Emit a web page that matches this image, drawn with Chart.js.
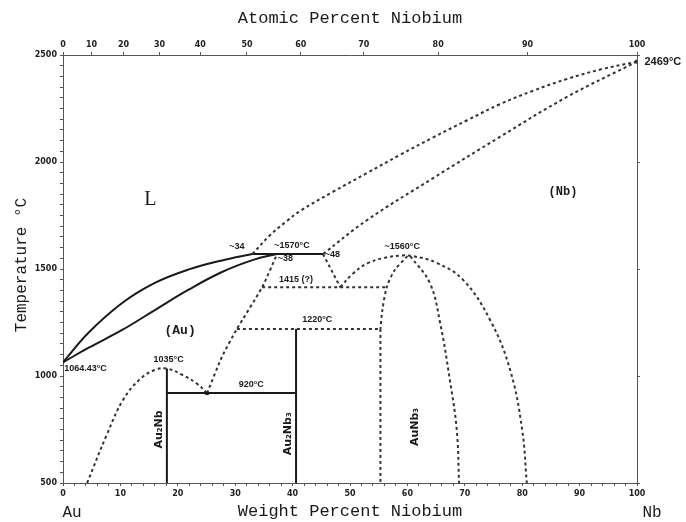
<!DOCTYPE html>
<html>
<head>
<meta charset="utf-8">
<script src="https://cdn.jsdelivr.net/npm/chart.js@4.4.1/dist/chart.umd.min.js"></script>
<style>
  html, body { margin: 0; padding: 0; background: #fff; }
  #wrap { width: 686px; height: 522px; }
</style>
</head>
<body>
<div id="wrap"><canvas id="phase" width="686" height="522"></canvas></div>
<script>
// Au-Nb phase diagram: x = weight percent Nb, y = temperature (°C)
const liquidusAu = [[0,1064],[4.4,1201],[10.3,1341],[16,1435],[21.8,1497],[27.7,1540],[33,1570]];
const solidusAu = [[0,1064],[4.4,1131],[10.3,1215],[16,1308],[21.8,1402],[27.7,1486],[33.4,1545],[37.3,1570]];
const liquidusNb = [[33,1570],[36.1,1659],[39,1724],[41.3,1771],[47,1860],[53,1949],[58.7,2033],[64.5,2115],
                    [70.4,2195],[76.1,2270],[81.9,2333],[87.8,2388],[93.6,2432],[100,2469]];
const solidusNb = [[45.3,1570],[53,1729],[64.5,1925],[76.1,2117],[87.8,2304],[100,2469]];
const peritectic1570 = [[33,1570],[45.3,1570]];
const drop48 = [[45.3,1570],[48.3,1415]];
const line1415 = [[34.7,1415],[56.4,1415]];
const line1220 = [[30.3,1220],[55.3,1220]];
const eutectic920 = [[18.1,920],[40.6,920]];
const au2nbLine = [[18.1,500],[18.1,1035]];
const au2nb3Line = [[40.6,500],[40.6,1220]];
const auSolvus = [[4.2,500],[7.7,730],[10.5,890],[13.4,985],[16,1028],[18.1,1035],[20.8,1005],[23.3,965],[25.1,920]];
const auBoundary = [[25.1,920],[27.7,1090],[30.3,1220],[34.7,1415],[37.3,1570]];
const auNb3Outer = [[48.3,1415],[50.5,1478],[53,1526],[56,1552],[59,1563],[61,1560],[65,1530],[69.7,1449],[74.4,1262],[77.9,1028],[80,748],[80.8,500]];
const auNb3Inner = [[60.5,1560],[63.9,1435],[65.7,1248],[67.4,981],[68.6,748],[69,500]];
const auNb3Left = [[60,1560],[57.8,1495],[56.4,1415],[55.6,1300],[55.3,1220]];
const auNb3Vertical = [[55.3,1220],[55.3,500]];
const markerPts = [[25.1,920],[100,2469]];

// top axis: atomic percent labels
const atomicLabels = [0,10,20,30,40,50,60,70,80,90,100];
const massAu = 196.967, massNb = 92.906;
const atomicToWeight = a => a === 100 ? 100 : 100 * a * massNb / (a * massNb + (100 - a) * massAu);

const toXY = arr => arr.map(p => ({x: p[0], y: p[1]}));
const INK = '#1a1a1a';

function solid(data, tension) {
  return { data: toXY(data), showLine: true, pointRadius: 0, borderColor: INK, borderWidth: 2,
           tension: tension || 0, fill: false };
}
function dotted(data, tension) {
  return { data: toXY(data), showLine: true, pointRadius: 0, borderColor: '#333', borderWidth: 2,
           borderDash: [3, 3], tension: tension || 0, fill: false };
}

const datasets = [
  solid(liquidusAu, 0.4),
  solid(solidusAu, 0.4),
  dotted(liquidusNb, 0.4),
  dotted(solidusNb, 0.4),
  solid(peritectic1570),
  dotted(drop48),
  dotted(line1415),
  dotted(line1220),
  solid(eutectic920),
  solid(au2nbLine),
  solid(au2nb3Line),
  dotted(auSolvus, 0.4),
  dotted(auBoundary, 0.2),
  dotted(auNb3Outer, 0.4),
  dotted(auNb3Inner, 0.4),
  dotted(auNb3Left, 0.3),
  dotted(auNb3Vertical),
  { data: toXY(markerPts), showLine: false, pointRadius: 2, pointStyle: 'rect',
    backgroundColor: INK, borderColor: INK }
];

// text labels placed in data coordinates
const labelsPlugin = {
  id: 'phaseLabels',
  afterDatasetsDraw(chart) {
    const ctx = chart.ctx;
    const xs = chart.scales.x, ys = chart.scales.y;
    const X = v => xs.getPixelForValue(v), Y = v => ys.getPixelForValue(v);
    ctx.save();
    ctx.fillStyle = INK;
    ctx.textBaseline = 'middle';

    function txt(s, x, y, font, align) {
      ctx.font = font;
      ctx.textAlign = align || 'center';
      ctx.fillText(s, x, y);
    }
    function vtxt(s, x, y, font) {
      ctx.save();
      ctx.translate(x, y);
      ctx.rotate(-Math.PI / 2);
      ctx.font = font;
      ctx.textAlign = 'center';
      ctx.fillText(s, 0, 0);
      ctx.restore();
    }
    const small = 'bold 9px "Liberation Sans"';
    const mono = '17px "Liberation Mono"';

    // axis titles
    txt('Atomic Percent Niobium', 350, 18, mono);
    txt('Weight Percent Niobium', 350, 511, mono);
    txt('Au', 72, 513, '16px "Liberation Mono"', 'center');
    txt('Nb', 652, 513, '16px "Liberation Mono"', 'center');
    vtxt('Temperature °C', 22, 265, '16px "Liberation Mono"');

    // region labels
    txt('L', X(15.2), Y(1822), '20px "Liberation Serif"');
    txt('(Au)', X(20.4), Y(1210), 'bold 13px "Liberation Mono"');
    txt('(Nb)', X(87.1), Y(1860), 'bold 12px "Liberation Mono"');

    // invariant temperatures / compositions
    txt('1064.43°C', X(0.2), Y(1037), small, 'left');
    txt('1035°C', X(18.4), Y(1075), small);
    txt('920°C', X(32.8), Y(958), small);
    txt('1220°C', X(44.3), Y(1262), small);
    txt('1415 (?)', X(40.6), Y(1449), small);
    txt('~34', X(30.3), Y(1603), small);
    txt('~1570°C', X(39.9), Y(1612), small);
    txt('~48', X(45.6), Y(1570), small, 'left');
    txt('~38', X(37.4), Y(1547), small, 'left');
    txt('~1560°C', X(59.1), Y(1607), small);
    txt('2469°C', X(101.3), Y(2467), 'bold 11px "Liberation Sans"', 'left');

    // compound labels
    vtxt('Au₂Nb', X(16.7), Y(750), 'bold 11px "DejaVu Sans"');
    vtxt('Au₂Nb₃', X(39.2), Y(730), 'bold 11px "DejaVu Sans"');
    vtxt('AuNb₃', X(61.3), Y(762), 'bold 11px "DejaVu Sans"');
    ctx.restore();
  }
};

const tickFont = { family: 'DejaVu Sans', size: 8, weight: 'bold' };
const axisBorder = { display: true, color: '#555', width: 1, dash: [2, 2] };
const axisGrid = { drawOnChartArea: false, drawTicks: true, tickLength: 3, color: '#555' };

new Chart(document.getElementById('phase'), {
  type: 'scatter',
  data: { datasets: datasets },
  options: {
    responsive: false,
    animation: false,
    devicePixelRatio: 1,
    layout: { padding: 0 },
    plugins: { legend: { display: false }, tooltip: { enabled: false } },
    scales: {
      x: {
        type: 'linear', position: 'bottom', min: 0, max: 100,
        afterFit: s => { s.height = 39; },
        grid: axisGrid, border: axisBorder,
        ticks: { stepSize: 2, autoSkip: false, maxRotation: 0, padding: 3, color: '#222', font: tickFont,
                 callback: v => (v % 10 === 0 ? v : '') }
      },
      x2: {
        type: 'linear', position: 'top', min: 0, max: 100,
        afterFit: s => { s.height = 55; },
        afterBuildTicks: s => { s.ticks = atomicLabels.map(a => ({ value: atomicToWeight(a) })); },
        grid: axisGrid, border: axisBorder,
        ticks: { autoSkip: false, maxRotation: 0, padding: 2, color: '#222', font: tickFont,
                 callback: (v, i) => atomicLabels[i] }
      },
      y: {
        type: 'linear', position: 'left', min: 500, max: 2500,
        afterFit: s => { s.width = 63; },
        grid: axisGrid, border: axisBorder,
        ticks: { stepSize: 50, autoSkip: false, padding: 3, color: '#222', font: tickFont,
                 callback: v => (v % 500 === 0 ? v : '') }
      },
      y2: {
        type: 'linear', position: 'right', min: 500, max: 2500,
        afterFit: s => { s.width = 49; },
        grid: axisGrid, border: axisBorder,
        ticks: { display: false }
      }
    }
  },
  plugins: [labelsPlugin]
});
</script>
</body>
</html>
